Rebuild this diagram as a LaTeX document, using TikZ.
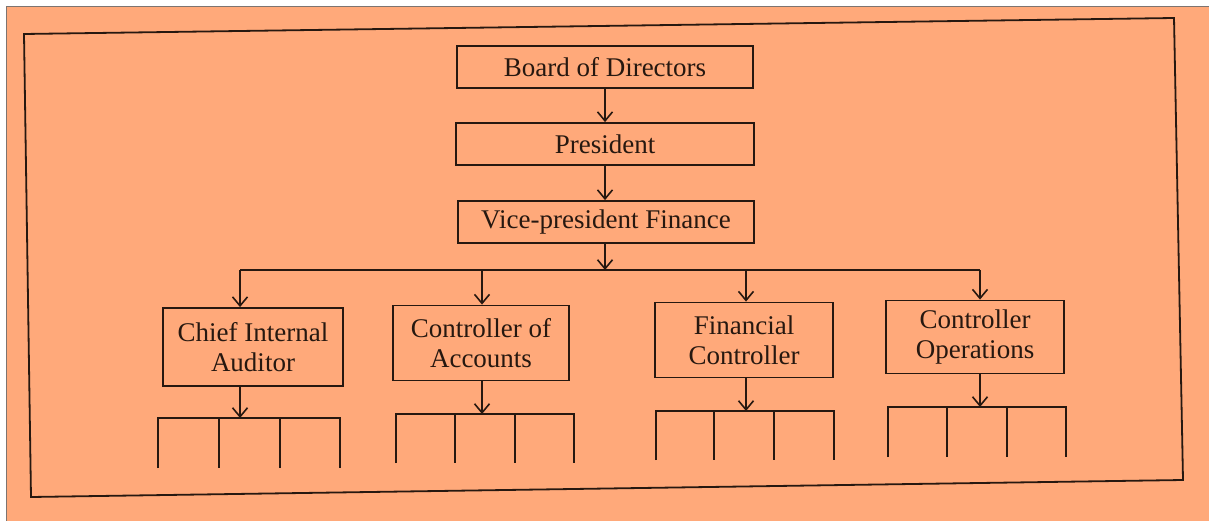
\documentclass[tikz,border=0pt]{standalone}
\usepackage{fontspec}
\setmainfont{Liberation Serif}
\usetikzlibrary{arrows.meta}
\definecolor{bg}{RGB}{255,169,122}
\definecolor{ink}{RGB}{38,24,16}
\begin{document}
\begin{tikzpicture}[x=1pt,y=-1pt,
  box/.style={draw=ink,line width=1.8pt,inner sep=0pt,font=\fontsize{27}{30}\selectfont,text=ink,align=center},
  conn/.style={draw=ink,line width=1.6pt},
  arr/.style={conn,-{Straight Barb[length=9pt,width=15pt,line width=1.6pt]}},
]
\useasboundingbox (0,0) rectangle (1209,521);
\fill[white] (0,0) rectangle (1209,521);
\fill[bg] (6,6) rectangle (1209,521);
\draw[ink!60,line width=0.8pt] (6,521) -- (6,6) -- (1209,6);
% outer frame
\draw[ink,line width=1.8pt] (24,34) -- (1174,18) -- (1183,480) -- (31,497) -- cycle;

% top boxes
\node[box,minimum width=296pt,minimum height=42pt] (bod) at (605,67) {Board of Directors};
\node[box,minimum width=298pt,minimum height=42pt] (pres) at (605,144) {President};
\node[box,minimum width=296pt,minimum height=42pt] (vp) at (606,222) {Vice-president Finance};

% second level boxes
\node[box,minimum width=180pt,minimum height=78pt] (cia) at (253,347) {Chief Internal\\Auditor};
\node[box,minimum width=176pt,minimum height=75pt] (coa) at (481,343) {Controller of\\Accounts};
\node[box,minimum width=178pt,minimum height=75pt] (fc) at (744,340) {Financial\\Controller};
\node[box,minimum width=178pt,minimum height=73pt] (co) at (975,337) {Controller\\Operations};

% bus coordinates
\coordinate (bus) at (605,270);
\coordinate (b1) at (240,270);
\coordinate (b2) at (482,270);
\coordinate (b3) at (746,270);
\coordinate (b4) at (980,270);

\draw[arr] (bod.south -| bus) -- (pres.north -| bus);
\draw[arr] (pres.south -| bus) -- (vp.north -| bus);
\draw[arr] (vp.south -| bus) -- (bus);
\draw[conn] (b1) -- (b4);
\draw[arr] (b1) -- (cia.north -| b1);
\draw[arr] (b2) -- (coa.north -| b2);
\draw[arr] (b3) -- (fc.north -| b3);
\draw[arr] (b4) -- (co.north -| b4);

% rakes
\coordinate (r1) at (240,418);
\coordinate (r2) at (482,414);
\coordinate (r3) at (746,411);
\coordinate (r4) at (980,407);
\draw[arr] (cia.south -| r1) -- (r1);
\draw[arr] (coa.south -| r2) -- (r2);
\draw[arr] (fc.south -| r3) -- (r3);
\draw[arr] (co.south -| r4) -- (r4);

\draw[conn] (158,468) -- (158,418) -- (340,418) -- (340,468);
\draw[conn] (219,418) -- (219,468) (280,418) -- (280,468);
\draw[conn] (396,463) -- (396,414) -- (574,414) -- (574,463);
\draw[conn] (455,414) -- (455,463) (515,414) -- (515,463);
\draw[conn] (656,460) -- (656,411) -- (834,411) -- (834,460);
\draw[conn] (714,411) -- (714,460);
\draw[conn,line width=2.6pt] (774,411) -- (774,460);
\draw[conn] (888,457) -- (888,407) -- (1066,407) -- (1066,457);
\draw[conn] (947,407) -- (947,457) (1007,407) -- (1007,457);
\end{tikzpicture}
\end{document}
